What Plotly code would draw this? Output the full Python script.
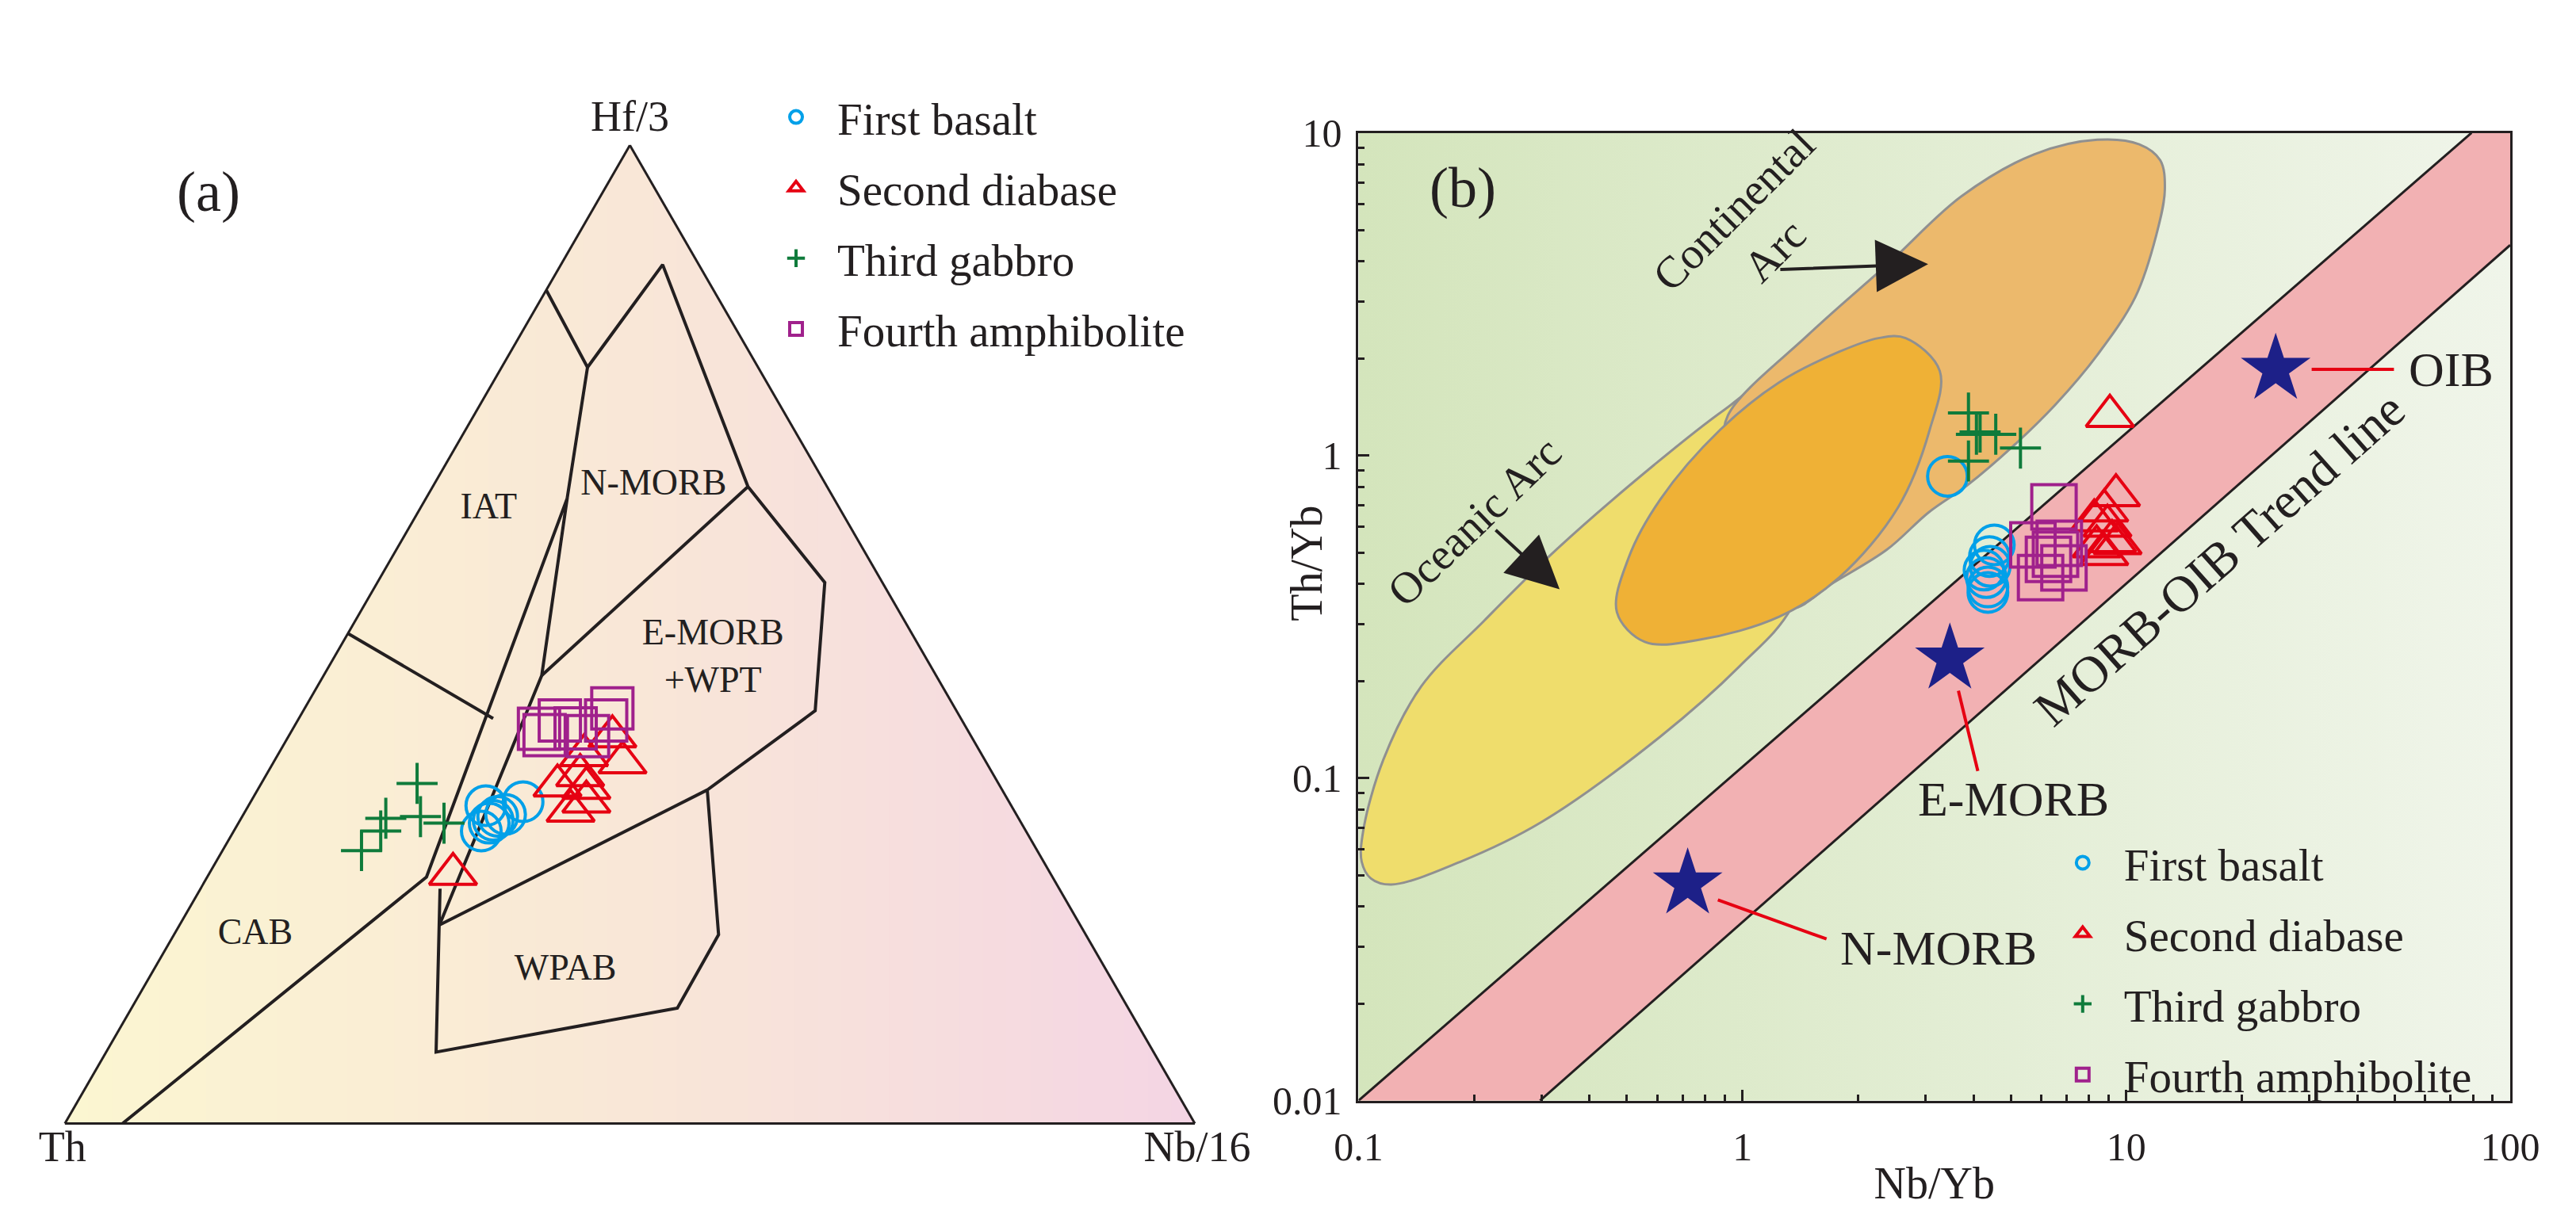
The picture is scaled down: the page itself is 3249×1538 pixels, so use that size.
import math
import numpy as np
import plotly.graph_objects as go

W, H = 3249, 1538
FONT = "Liberation Serif"
INK = "#231f20"
C_BASALT = "#00a0e9"
C_DIABASE = "#e60012"
C_GABBRO = "#0f7b3b"
C_AMPH = "#a0218c"
C_STAR = "#1d2088"

# ---------------- Panel (a): Th - Hf/3 - Nb/16 ternary (values in %) ----------------
basalt_a_th = [48.2, 46.5, 46.0, 46.6, 45.2, 43.0, 47.1]
basalt_a_hf = [29.9, 32.5, 31.4, 31.0, 31.6, 32.9, 30.7]
basalt_a_nb = [21.9, 21.0, 22.6, 22.4, 23.2, 24.1, 22.2]

diabase_a_th = [52.9, 39.1, 39.3, 36.7, 37.4, 36.6, 32.2, 31.8, 35.2]
diabase_a_hf = [25.5, 34.5, 32.0, 34.3, 32.9, 35.6, 36.9, 39.6, 37.6]
diabase_a_nb = [21.6, 26.3, 28.8, 29.0, 29.7, 27.8, 30.9, 28.7, 27.1]

gabbro_a_th = [59.8, 57.1, 56.0, 51.5, 52.9, 51.1]
gabbro_a_hf = [27.9, 29.9, 31.2, 34.8, 31.4, 30.7]
gabbro_a_nb = [12.3, 13.0, 12.8, 13.8, 15.8, 18.2]

amph_a_th = [37.9, 37.7, 34.6, 33.9, 30.3, 31.5, 35.6]
amph_a_hf = [40.4, 39.7, 40.4, 39.6, 42.4, 41.2, 41.2]
amph_a_nb = [21.8, 22.6, 25.0, 26.5, 27.2, 27.3, 23.2]

# field boundaries, points as (Th, Hf/3, Nb/16)
bnd_outer = [(14.8, 85.2, 0.0), (15.1, 77.3, 7.6), (3.2, 87.8, 9.0), (7.0, 65.1, 27.9),
             (5.1, 55.3, 39.6), (12.5, 42.2, 45.3), (26.1, 34.1, 39.8), (32.5, 19.3, 48.2),
             (39.9, 11.8, 48.3), (63.5, 7.3, 29.2), (54.8, 24.0, 21.2)]
bnd_arc = [(15.1, 77.3, 7.6), (23.6, 63.9, 12.5), (55.4, 25.2, 19.4), (94.9, 0.0, 5.1)]
bnd_inner = [(23.6, 63.9, 12.5), (34.9, 45.8, 19.3), (56.7, 20.3, 23.0)]
bnd_nmorb = [(34.9, 45.8, 19.3), (7.0, 65.1, 27.9)]
bnd_wpab = [(56.7, 20.3, 23.0), (26.1, 34.1, 39.8)]
bnd_iat_cab = [(49.9, 50.1, 0.0), (41.4, 41.4, 17.2)]

field_labels_a = ["IAT", "N-MORB", "E-MORB<br>+WPT", "CAB", "WPAB"]
field_lab_th = [31.1, 15.3, 18.9, 73.5, 47.9]
field_lab_hf = [62.8, 65.2, 47.5, 19.3, 15.6]
field_lab_nb = [6.1, 19.5, 33.6, 7.2, 36.5]

# ---------------- Panel (b): Th/Yb vs Nb/Yb ----------------
basalt_nbyb = [3.42, 4.53, 4.40, 4.42, 4.26, 4.32, 4.36, 4.36]
basalt_thyb = [0.862, 0.528, 0.486, 0.453, 0.441, 0.418, 0.391, 0.376]

diabase_nbyb = [9.06, 9.40, 8.76, 8.25, 8.93, 9.18, 8.37, 8.76, 9.49]
diabase_thyb = [1.325, 0.752, 0.674, 0.628, 0.605, 0.542, 0.522, 0.494, 0.534]

gabbro_nbyb = [3.88, 4.07, 4.16, 4.57, 5.30, 3.88]
gabbro_thyb = [1.354, 1.163, 1.182, 1.163, 1.054, 0.961]

amph_nbyb = [6.48, 5.71, 5.98, 6.27, 6.88, 6.69, 6.54]
amph_thyb = [0.693, 0.528, 0.418, 0.476, 0.448, 0.534, 0.494]

oceanic_nbyb = [0.1216, 0.1077, 0.1019, 0.1028, 0.1161, 0.1458, 0.2116, 0.3293, 0.589, 0.896,
                1.362, 1.719, 1.641, 1.343, 0.983, 0.6115, 0.300, 0.184, 0.1216]
oceanic_thyb = [0.04675, 0.04883, 0.05502, 0.06842, 0.1142, 0.1927, 0.306, 0.5137, 0.935, 1.384,
                1.898, 1.612, 0.752, 0.3376, 0.222, 0.1345, 0.0731, 0.055, 0.04675]

continental_nbyb = [0.917, 1.495, 2.426, 3.723, 5.765, 8.405, 10.81, 12.26, 12.6, 11.97, 10.56,
                    8.405, 6.537, 5.084, 3.846, 3.06, 2.381, 1.719, 1.343, 1.079, 0.938, 0.896, 0.917]
continental_thyb = [1.332, 2.386, 3.983, 6.364, 8.588, 9.522, 9.216, 8.219, 6.68, 4.82, 3.10,
                    2.049, 1.438, 1.072, 0.807, 0.667, 0.511, 0.402, 0.3357, 0.391, 0.674, 1.043, 1.332]

overlap_nbyb = [2.662, 3.267, 3.075, 2.541, 1.784, 1.246, 0.775, 0.557, 0.471, 0.505, 0.6115,
                0.875, 1.246, 1.784, 2.262, 2.662]
overlap_thyb = [2.310, 1.827, 1.201, 0.689, 0.4176, 0.3162, 0.2685, 0.2642, 0.3267, 0.481, 0.732,
                1.201, 1.684, 2.094, 2.310, 2.310]

band_upper_nbyb = [0.1, 79.3]
band_upper_thyb = [0.01, 10.0]
band_lower_nbyb = [0.297, 100.0]
band_lower_thyb = [0.01, 4.49]

ref_names = ["N-MORB", "E-MORB", "OIB"]
ref_nbyb = [0.72, 3.47, 24.5]
ref_thyb = [0.047, 0.234, 1.85]
leader_nbyb = [[0.863, 1.656], [3.653, 4.104], [30.4, 49.8]]
leader_thyb = [[0.0419, 0.0317], [0.1864, 0.1052], [1.85, 1.85]]
ref_label_nbyb = [3.24, 5.08, 53.8]
ref_label_thyb = [0.0297, 0.086, 1.85]

x_ticks = [0.1, 1, 10, 100]
x_ticktext = ["0.1", "1", "10", "100"]
y_ticks = [0.01, 0.1, 1, 10]
y_ticktext = ["0.01", "0.1", "1", "10"]

fig = go.Figure()


# ---------- ternary background: left-to-right colour gradient ----------
def hex_rgb(h):
    return tuple(int(h[i:i + 2], 16) for i in (1, 3, 5))


grad_stops = [(0.0, "#fbf6d1"), (0.5, "#f9e7d7"), (1.0, "#f4d5e4")]


def grad_color(u):
    for (u0, c0), (u1, c1) in zip(grad_stops[:-1], grad_stops[1:]):
        if u <= u1:
            t = (u - u0) / (u1 - u0)
            r0, r1 = hex_rgb(c0), hex_rgb(c1)
            return "rgb(%d,%d,%d)" % tuple(round(a + (b - a) * t) for a, b in zip(r0, r1))
    return grad_stops[-1][1]


N_STRIPS = 48
for i in range(N_STRIPS):
    u = i / N_STRIPS  # region of the triangle right of horizontal position u
    if u <= 0.5:
        poly = [(1 - u, 0, u), (0, 0, 1), (0, 1, 0), (1 - 2 * u, 2 * u, 0)]
    else:
        poly = [(1 - u, 0, u), (0, 0, 1), (0, 2 * (1 - u), 2 * u - 1)]
    th, hf, nb = zip(*[(100 * p[0], 100 * p[1], 100 * p[2]) for p in poly])
    fig.add_trace(go.Scatterternary(a=hf, b=th, c=nb, mode="lines", fill="toself",
                                    fillcolor=grad_color(u + 0.5 / N_STRIPS),
                                    line=dict(width=0, color="rgba(0,0,0,0)"),
                                    hoverinfo="skip", showlegend=False))

for seg in [bnd_outer, bnd_arc, bnd_inner, bnd_nmorb, bnd_wpab, bnd_iat_cab]:
    th, hf, nb = zip(*seg)
    fig.add_trace(go.Scatterternary(a=hf, b=th, c=nb, mode="lines",
                                    line=dict(color=INK, width=4),
                                    hoverinfo="skip", showlegend=False))

fig.add_trace(go.Scatterternary(a=field_lab_hf, b=field_lab_th, c=field_lab_nb, mode="text",
                                text=field_labels_a,
                                textfont=dict(family=FONT, size=46, color=INK),
                                hoverinfo="skip", showlegend=False))

series_a = [
    ("First basalt", basalt_a_th, basalt_a_hf, basalt_a_nb, "circle-open", C_BASALT, 50),
    ("Second diabase", diabase_a_th, diabase_a_hf, diabase_a_nb, "triangle-up-open", C_DIABASE, 52),
    ("Third gabbro", gabbro_a_th, gabbro_a_hf, gabbro_a_nb, "cross-thin-open", C_GABBRO, 37),
    ("Fourth amphibolite", amph_a_th, amph_a_hf, amph_a_nb, "square-open", C_AMPH, 52),
]
for k, (name, th, hf, nb, sym, col, sz) in enumerate(series_a):
    fig.add_trace(go.Scatterternary(a=hf, b=th, c=nb, mode="markers", name=name,
                                    legendgroup="a%d" % k,
                                    marker=dict(symbol=sym, size=sz, color=col,
                                                line=dict(width=4, color=col)),
                                    legend="legend"))

# ---------- panel (b) ----------
fig.add_trace(go.Scatter(x=[x_ticks[0], x_ticks[-1], x_ticks[-1], x_ticks[0], x_ticks[0]],
                         y=[y_ticks[0], y_ticks[0], y_ticks[-1], y_ticks[-1], y_ticks[0]],
                         mode="lines", fill="toself", fillcolor="#e2edd3",
                         fillgradient=dict(type="horizontal",
                                           colorscale=[[0, "#d4e5bc"], [1, "#f0f5ea"]]),
                         line=dict(width=0), hoverinfo="skip", showlegend=False))

for xs, ys, col in [(oceanic_nbyb, oceanic_thyb, "#efdd6c"),
                    (continental_nbyb, continental_thyb, "#ecb96c"),
                    (overlap_nbyb, overlap_thyb, "#efb136")]:
    fig.add_trace(go.Scatter(x=xs, y=ys, mode="lines", fill="toself", fillcolor=col,
                             line=dict(color="#909090", width=3, shape="spline", smoothing=1.0),
                             hoverinfo="skip", showlegend=False))

band_x = band_upper_nbyb + [band_lower_nbyb[-1]] + band_lower_nbyb[::-1]
band_y = band_upper_thyb + [band_upper_thyb[-1]] + band_lower_thyb[::-1]
fig.add_trace(go.Scatter(x=band_x, y=band_y, mode="lines", fill="toself", fillcolor="#f2b1b3",
                         line=dict(width=0), hoverinfo="skip", showlegend=False))
for xs, ys in [(band_upper_nbyb, band_upper_thyb), (band_lower_nbyb, band_lower_thyb)]:
    fig.add_trace(go.Scatter(x=xs, y=ys, mode="lines", line=dict(color=INK, width=3),
                             hoverinfo="skip", showlegend=False))

for lx, ly in zip(leader_nbyb, leader_thyb):
    fig.add_trace(go.Scatter(x=lx, y=ly, mode="lines", line=dict(color=C_DIABASE, width=4),
                             hoverinfo="skip", showlegend=False))
fig.add_trace(go.Scatter(x=ref_nbyb, y=ref_thyb, mode="markers",
                         marker=dict(symbol="star", size=66, color=C_STAR, line=dict(width=0)),
                         hoverinfo="skip", showlegend=False))

series_b = [
    ("First basalt", basalt_nbyb, basalt_thyb, "circle-open", C_BASALT, 50),
    ("Second diabase", diabase_nbyb, diabase_thyb, "triangle-up-open", C_DIABASE, 52),
    ("Third gabbro", gabbro_nbyb, gabbro_thyb, "cross-thin-open", C_GABBRO, 37),
    ("Fourth amphibolite", amph_nbyb, amph_thyb, "square-open", C_AMPH, 56),
]
for k, (name, xs, ys, sym, col, sz) in enumerate(series_b):
    fig.add_trace(go.Scatter(x=xs, y=ys, mode="markers", name=name,
                             legendgroup="b%d" % k,
                             marker=dict(symbol=sym, size=sz, color=col,
                                         line=dict(width=4, color=col)),
                             legend="legend2"))

# ---------- annotations ----------
ann = []
txt = lambda s: dict(family=FONT, size=s, color=INK)
ann.append(dict(text="(a)", x=237 / W, y=1 - 222 / H, xref="paper", yref="paper",
                xanchor="center", yanchor="middle", showarrow=False, font=txt(72)))
ann.append(dict(text="(b)", x=1853 / W, y=1 - 217 / H, xref="paper", yref="paper",
                xanchor="center", yanchor="middle", showarrow=False, font=txt(72)))
ann.append(dict(text="Th/Yb", x=1652 / W, y=1 - 709 / H, xref="paper", yref="paper",
                xanchor="center", yanchor="middle",
                showarrow=False, textangle=-90, font=txt(56)))

for name, lxv, lyv in zip(ref_names, ref_label_nbyb, ref_label_thyb):
    ann.append(dict(text=name, x=math.log10(lxv), y=math.log10(lyv), xref="x", yref="y",
                    showarrow=False, font=txt(62), yanchor="middle",
                    xanchor="left" if name == "OIB" else "center"))

ann.append(dict(text="MORB-OIB Trend line", x=math.log10(17.46), y=math.log10(0.4757),
                xref="x", yref="y", showarrow=False, textangle=-41.5, font=txt(64)))
ann.append(dict(text="Continental<br>Arc", x=math.log10(1.074), y=math.log10(4.98),
                xref="x", yref="y", showarrow=False, textangle=-45, font=txt(56)))
ann.append(dict(text="Oceanic Arc", x=math.log10(0.200), y=math.log10(0.625),
                xref="x", yref="y", showarrow=False, textangle=-44, font=txt(56)))
# arrows: (tail x, tail y, tip x, tip y)
for tx, ty, hx, hy in [(1.246, 3.77, 3.046, 3.92), (0.226, 0.592, 0.334, 0.3847)]:
    ann.append(dict(text="", x=math.log10(hx), y=math.log10(hy), ax=math.log10(tx),
                    ay=math.log10(ty), xref="x", yref="y", axref="x", ayref="y",
                    showarrow=True, arrowhead=2, arrowsize=3.3, arrowwidth=4, arrowcolor=INK,
                    standoff=0))

minor_x = [k * 10.0 ** e for e in range(-1, 2) for k in range(2, 10)]
minor_y = [k * 10.0 ** e for e in range(-2, 1) for k in range(2, 10)]

axis_common = dict(type="log", showline=True, mirror=True, linecolor=INK, linewidth=3,
                   ticks="inside", ticklen=14, tickwidth=3, tickcolor=INK,
                   showgrid=False, zeroline=False, tickfont=txt(50))

tern_axis = lambda t: dict(title=dict(text=t, font=txt(54)), showticklabels=False, ticks="",
                           showgrid=False, linecolor=INK, linewidth=3, min=0)

TRI_X0, TRI_X1, TRI_BASE = 40, 1520, 1443
tri_h = (TRI_X1 - TRI_X0) * math.sqrt(3) / 2

legend_common = dict(xanchor="left", yanchor="top", bgcolor="rgba(0,0,0,0)", font=txt(57),
                     itemwidth=94, tracegroupgap=12)

fig.update_layout(
    width=W, height=H, margin=dict(l=0, r=0, t=0, b=0),
    paper_bgcolor="white", plot_bgcolor="rgba(0,0,0,0)",
    font=dict(family=FONT, color=INK),
    ternary=dict(domain=dict(x=[TRI_X0 / W, TRI_X1 / W],
                             y=[(H - TRI_BASE) / H, (H - TRI_BASE + tri_h) / H]),
                 sum=100, bgcolor="rgba(0,0,0,0)",
                 aaxis=tern_axis("Hf/3"), baxis=tern_axis("Th"), caxis=tern_axis("Nb/16")),
    xaxis=dict(domain=[1719 / W, 3203 / W], range=[-1, 2], tickvals=x_ticks,
               ticktext=x_ticktext, title=dict(text="Nb/Yb", font=txt(56), standoff=0),
               ticklabelstandoff=12,
               minor=dict(tickmode="array", tickvals=minor_x, ticks="inside", ticklen=8,
                          tickwidth=3, tickcolor=INK, showgrid=False),
               **axis_common),
    yaxis=dict(domain=[(H - 1413) / H, (H - 145) / H], range=[-2, 1], tickvals=y_ticks,
               ticktext=y_ticktext, ticklabelstandoff=8,
               minor=dict(tickmode="array", tickvals=minor_y, ticks="inside", ticklen=8,
                          tickwidth=3, tickcolor=INK, showgrid=False),
               **axis_common),
    legend=dict(x=941 / W, y=1 - 79 / H, **legend_common),
    legend2=dict(x=2599 / W, y=1 - 1056 / H, **legend_common),
    annotations=ann,
    showlegend=True,
)

fig.write_html("out.html", config={"displayModeBar": False},
               post_script="document.body.style.margin='0';document.body.style.overflow='hidden';")
